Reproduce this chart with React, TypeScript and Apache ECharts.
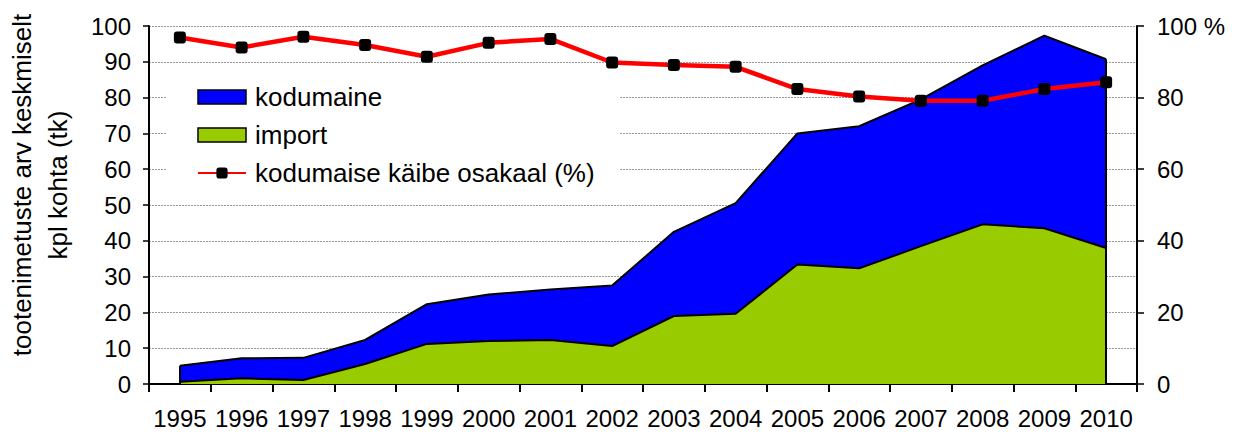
import React, { useEffect, useRef } from "react";
import * as echarts from "echarts";

const years = ["1995", "1996", "1997", "1998", "1999", "2000", "2001", "2002", "2003", "2004", "2005", "2006", "2007", "2008", "2009", "2010"];
const importValues = [0.6, 1.6, 1.1, 5.6, 11.2, 12.0, 12.3, 10.6, 19.0, 19.6, 33.4, 32.3, 38.5, 44.6, 43.5, 38.0];
const kodumaineValues = [4.5, 5.6, 6.2, 6.7, 11.1, 13.0, 14.1, 16.9, 23.5, 30.9, 36.6, 39.7, 41.0, 44.4, 53.8, 52.7];
const shareValues = [96.8, 94.0, 97.0, 94.7, 91.4, 95.3, 96.4, 89.8, 89.1, 88.6, 82.4, 80.3, 79.1, 79.1, 82.4, 84.3];

const FONT = "'Liberation Sans', Arial, sans-serif";

export default function App() {
  const ref = useRef<HTMLDivElement>(null);
  useEffect(() => {
    if (!ref.current) return;
    const chart = echarts.init(ref.current, null, { renderer: "svg" });
    const last = years.length - 1;
    const total0 = importValues[0] + kodumaineValues[0];
    const totalLast = importValues[last] + kodumaineValues[last];
    chart.setOption({
      animation: false,
      backgroundColor: "#fff",
      textStyle: { fontFamily: FONT },
      grid: { left: 149, right: 100, top: 26, bottom: 52, containLabel: false },
      legend: {
        orient: "vertical",
        left: 166,
        top: 70,
        padding: [13, 25, 12, 31],
        backgroundColor: "#fff",
        itemWidth: 48,
        itemHeight: 14,
        itemGap: 10,
        selectedMode: false,
        textStyle: { fontFamily: FONT, fontSize: 26, color: "#000", lineHeight: 28, padding: [0, 0, 0, 4] },
        data: [
          { name: "kodumaine", icon: "rect", itemStyle: { color: "#0000ff", borderColor: "#000", borderWidth: 1.5 } },
          { name: "import", icon: "rect", itemStyle: { color: "#99cc00", borderColor: "#000", borderWidth: 1.5 } },
          { name: "kodumaise käibe osakaal (%)" },
        ],
      },
      graphic: [
        {
          type: "text",
          x: 40,
          y: 185,
          rotation: Math.PI / 2,
          style: {
            text: "tootenimetuste arv keskmiselt\nkpl kohta (tk)",
            fontFamily: FONT,
            fontSize: 26,
            lineHeight: 36,
            fill: "#000",
            align: "center",
            verticalAlign: "middle",
          },
        },
      ],
      xAxis: [
        {
          type: "category",
          data: years,
          boundaryGap: true,
          position: "bottom",
          axisLine: { show: true, lineStyle: { color: "#000", width: 2 } },
          axisTick: { show: true, length: 8, lineStyle: { color: "#000", width: 2 } },
          axisLabel: { color: "#000", fontSize: 24, fontFamily: FONT, margin: 22, interval: 0 },
          splitLine: { show: false },
        },
        {
          type: "category",
          data: years,
          boundaryGap: true,
          position: "bottom",
          axisLine: { show: false },
          axisTick: { show: true, inside: true, length: 7, lineStyle: { color: "#000", width: 2 } },
          axisLabel: { show: false },
          splitLine: { show: false },
        },
      ],
      yAxis: [
        {
          type: "value",
          min: 0,
          max: 100,
          interval: 10,
          position: "left",
          axisLine: { show: true, lineStyle: { color: "#000", width: 2 } },
          axisTick: { show: true, length: 6, lineStyle: { color: "#000", width: 1.5 } },
          axisLabel: { color: "#000", fontSize: 24, fontFamily: FONT, margin: 18 },
          splitLine: { show: true, lineStyle: { color: "#999", width: 1, type: [2, 1] } },
        },
        {
          type: "value",
          min: 0,
          max: 100,
          interval: 20,
          position: "right",
          axisLine: { show: true, lineStyle: { color: "#000", width: 2 } },
          axisTick: { show: true, length: 7, lineStyle: { color: "#000", width: 1.5 } },
          axisLabel: {
            color: "#000",
            fontSize: 24,
            fontFamily: FONT,
            margin: 20,
            formatter: (v: number) => (v === 100 ? "100 %" : String(v)),
          },
          splitLine: { show: false },
        },
      ],
      series: [
        {
          name: "import",
          type: "line",
          stack: "total",
          data: importValues,
          showSymbol: false,
          symbol: "none",
          color: "#99cc00",
          lineStyle: { color: "#000", width: 2 },
          areaStyle: { color: "#99cc00", opacity: 1 },
          z: 2,
        },
        {
          name: "kodumaine",
          type: "line",
          stack: "total",
          data: kodumaineValues,
          showSymbol: false,
          symbol: "none",
          color: "#0000ff",
          lineStyle: { color: "#000", width: 2 },
          areaStyle: { color: "#0000ff", opacity: 1 },
          z: 1,
        },
        {
          name: "kodumaise käibe osakaal (%)",
          type: "line",
          yAxisIndex: 1,
          data: shareValues,
          symbol: "roundRect",
          symbolSize: 12,
          color: "#ff0000",
          itemStyle: { color: "#000" },
          lineStyle: { color: "#ff0000", width: 4.5 },
          z: 5,
          markLine: {
            silent: true,
            symbol: "none",
            label: { show: false },
            lineStyle: { color: "#000", width: 2, type: "solid" },
            data: [
              [{ coord: [years[0], 0] }, { coord: [years[0], total0] }],
              [{ coord: [years[last], 0] }, { coord: [years[last], totalLast] }],
            ],
          },
        },
      ],
    });
    return () => chart.dispose();
  }, []);
  return <div ref={ref} style={{ position: "fixed", left: 0, top: 0, width: 1237, height: 436 }} />;
}
